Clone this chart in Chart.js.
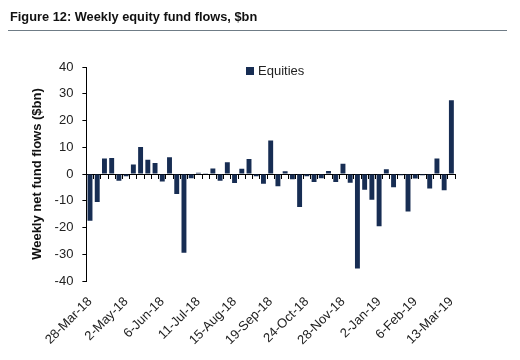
<!DOCTYPE html>
<html>
<head>
<meta charset="utf-8">
<script src="https://cdn.jsdelivr.net/npm/chart.js@4"></script>
<style>
  html, body { margin: 0; padding: 0; background: #fff; }
  #wrap { position: relative; width: 520px; height: 360px; }
  #title { position: absolute; left: 10px; top: 9px; font: bold 12.8px 'Liberation Sans', Arial, sans-serif; color: #111; white-space: nowrap; }
  #rule { position: absolute; left: 8px; top: 30px; width: 499px; height: 0; border-top: 1.5px solid #6f7c86; }
  #legend { position: absolute; left: 246px; top: 63px; font: 13px 'Liberation Sans', Arial, sans-serif; color: #222; white-space: nowrap; display: flex; align-items: center; }
  #legend .box { display: inline-block; width: 8px; height: 8px; margin-right: 4px; }
  canvas { position: absolute; left: 0; top: 0; }
</style>
</head>
<body>
<div id="wrap">
  <canvas id="c" width="520" height="360"></canvas>
  <div id="title">Figure 12: Weekly equity fund flows, $bn</div>
  <div id="rule"></div>
  <div id="legend"><span class="box"></span><span id="legendText"></span></div>
</div>
<script>
const weeks = ['28-Mar-18','4-Apr-18','11-Apr-18','18-Apr-18','25-Apr-18','2-May-18','9-May-18','16-May-18','23-May-18','30-May-18',
  '6-Jun-18','13-Jun-18','20-Jun-18','27-Jun-18','4-Jul-18','11-Jul-18','18-Jul-18','25-Jul-18','1-Aug-18','8-Aug-18',
  '15-Aug-18','22-Aug-18','29-Aug-18','5-Sep-18','12-Sep-18','19-Sep-18','26-Sep-18','3-Oct-18','10-Oct-18','17-Oct-18',
  '24-Oct-18','31-Oct-18','7-Nov-18','14-Nov-18','21-Nov-18','28-Nov-18','5-Dec-18','12-Dec-18','19-Dec-18','26-Dec-18',
  '2-Jan-19','9-Jan-19','16-Jan-19','23-Jan-19','30-Jan-19','6-Feb-19','13-Feb-19','20-Feb-19','27-Feb-19','6-Mar-19','13-Mar-19'];
const tickLabels = ['28-Mar-18','2-May-18','6-Jun-18','11-Jul-18','15-Aug-18','19-Sep-18','24-Oct-18','28-Nov-18','2-Jan-19','6-Feb-19','13-Mar-19'];
const equities = [-17.5, -10.5, 5.8, 6.0, -2.5, -0.8, 3.6, 10.1, 5.3, 4.1,
  -2.8, 6.3, -7.5, -29.4, -1.6, 0.5, 0.3, 2.1, -2.5, 4.4,
  -3.4, 2.0, 5.6, -0.8, -3.6, 12.5, -4.6, 1.0, -2.0, -12.3,
  -0.8, -3.0, -1.6, 1.1, -3.0, 3.8, -3.3, -35.3, -5.9, -9.6,
  -19.5, 1.8, -4.9, -0.5, -14.0, -1.7, -0.5, -5.4, 5.8, -6.1, 27.6];
const yTicks = [-40, -30, -20, -10, 0, 10, 20, 30, 40];
const seriesName = 'Equities';

const FONT = "'Liberation Sans', Arial, sans-serif";
const BAR = '#172d53';

document.getElementById('legendText').textContent = seriesName;
document.querySelector('#legend .box').style.background = BAR;

new Chart(document.getElementById('c'), {
  type: 'bar',
  data: {
    labels: weeks,
    datasets: [{
      label: seriesName,
      data: equities,
      backgroundColor: BAR,
      borderWidth: 0,
      categoryPercentage: 1.0,
      barPercentage: 0.68
    }]
  },
  options: {
    responsive: false,
    animation: false,
    layout: { padding: { top: 67, left: 30, right: 65, bottom: 7 } },
    plugins: {
      legend: { display: false },
      tooltip: { enabled: false }
    },
    scales: {
      x: {
        type: 'category',
        position: { y: 0 },
        offset: true,
        grid: { display: true, drawOnChartArea: false, drawTicks: true, tickLength: 4, offset: true, color: '#000', lineWidth: 1 },
        border: { display: true, color: '#000', width: 1 },
        ticks: { display: false }
      },
      xb: {
        type: 'category',
        position: 'bottom',
        offset: true,
        grid: { display: false },
        border: { display: false },
        ticks: {
          autoSkip: false,
          maxRotation: 45,
          minRotation: 45,
          padding: 5,
          color: '#222',
          font: { family: FONT, size: 13 },
          callback: function (v, i) {
            const l = this.getLabelForValue(v);
            return tickLabels.includes(l) ? l : '';
          }
        }
      },
      y: {
        min: -40,
        max: 40,
        afterBuildTicks: (s) => { s.ticks = yTicks.map(v => ({ value: v })); },
        grid: { display: true, drawOnChartArea: false, drawTicks: true, tickLength: 4, color: '#000' },
        border: { display: true, color: '#000', width: 1 },
        ticks: { color: '#222', font: { family: FONT, size: 13 }, padding: 9 },
        title: { display: true, text: 'Weekly net fund flows ($bn)', color: '#111', font: { family: FONT, size: 13, weight: 'bold' }, padding: { top: 0, bottom: 0 } }
      }
    }
  }
});
</script>
</body>
</html>
